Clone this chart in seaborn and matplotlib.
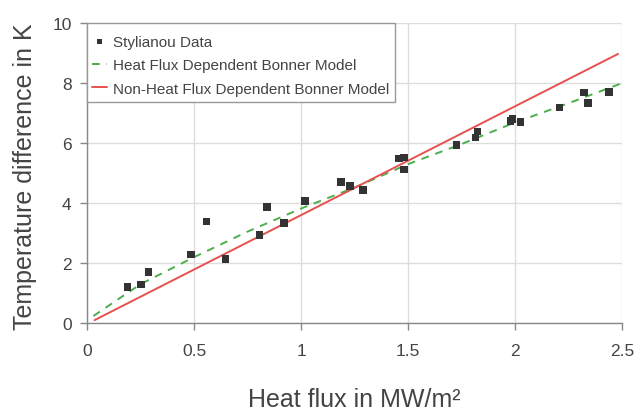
import numpy as np
import pandas as pd
import matplotlib
matplotlib.use("Agg")
import matplotlib.pyplot as plt
from matplotlib.patches import Rectangle
import seaborn as sns

# Stylianou data
flux = [0.19, 0.253, 0.287, 0.487, 0.559, 0.646, 0.806, 0.84, 0.919, 1.019,
        1.185, 1.227, 1.289, 1.457, 1.481, 1.481, 1.726, 1.815, 1.824, 1.977,
        1.987, 2.025, 2.207, 2.321, 2.341, 2.439]
dT = [1.21, 1.29, 1.70, 2.29, 3.39, 2.14, 2.93, 3.87, 3.34, 4.06,
      4.70, 4.57, 4.43, 5.48, 5.52, 5.12, 5.93, 6.18, 6.38, 6.73,
      6.80, 6.70, 7.19, 7.68, 7.33, 7.71]

# heat flux dependent Bonner model
hf_x = [0.03, 0.25, 0.5, 0.75, 1.0, 1.25, 1.5, 1.75, 2.0, 2.25, 2.5]
hf_y = [0.24, 1.3, 2.2, 3.05, 3.82, 4.52, 5.3, 5.97, 6.69, 7.33, 8.0]

# non-heat flux dependent Bonner model
nhf_x = [0.035, 2.48]
nhf_y = [0.1, 8.97]

sns.set_theme(style="whitegrid")
plt.rcParams['font.family'] = ['Liberation Sans', 'DejaVu Sans']

fig = plt.figure(figsize=(6.35, 4.14), dpi=100)
ax = fig.add_axes([0.137, 0.217, 0.843, 0.725])

data = pd.DataFrame({'x': flux, 'y': dT})
sns.scatterplot(data=data, x='x', y='y', marker='s', s=30, color='#333333',
                edgecolor='none', ax=ax, label='Stylianou Data', zorder=4)
sns.lineplot(x=hf_x, y=hf_y, color='#4cae4c', linestyle=(0, (4, 3.5)), lw=1.4,
             ax=ax, label='Heat Flux Dependent Bonner Model', zorder=3)
sns.lineplot(x=nhf_x, y=nhf_y, color='#e5514e', lw=1.4, ax=ax,
             label='Non-Heat Flux Dependent Bonner Model', zorder=3)

ax.set_xlim(0, 2.5)
ax.set_ylim(0, 10)
ax.set_xticks([0, 0.5, 1, 1.5, 2, 2.5])
ax.set_xticklabels(['0', '0.5', '1', '1.5', '2', '2.5'])
ax.set_yticks([0, 2, 4, 6, 8, 10])

ax.grid(color='#dddddd', lw=1)
for s in ['top', 'right']:
    ax.spines[s].set_visible(False)
for s in ['left', 'bottom']:
    ax.spines[s].set_color('#888888')
    ax.spines[s].set_linewidth(1)
ax.tick_params(axis='both', length=5, width=1, color='#888888', colors='#444444',
               labelsize=12.5, bottom=True, left=True)
ax.tick_params(axis='x', pad=9)
ax.tick_params(axis='y', pad=6)

ax.set_xlabel('Heat flux in MW/m²', fontsize=18, color='#444444')
ax.set_ylabel('Temperature difference in K', fontsize=18, color='#444444')
ax.xaxis.set_label_coords(0.5, -0.212)
ax.yaxis.set_label_coords(-0.093, 0.49)

# legend box drawn separately so the padding can match
box = Rectangle((0, 0.737), 0.576, 0.263, transform=ax.transAxes, facecolor='white',
                edgecolor='#999999', lw=1, zorder=5, clip_on=False)
ax.add_patch(box)
leg = ax.legend(loc='upper left', bbox_to_anchor=(0, 0.976), borderaxespad=0,
                fontsize=11, frameon=False, handlelength=1.0,
                handletextpad=0.4, borderpad=0.3, labelspacing=0.62, markerscale=0.7)
leg.set_zorder(6)
for t in leg.get_texts():
    t.set_color('#444444')

fig.savefig('out.png', dpi=100)
